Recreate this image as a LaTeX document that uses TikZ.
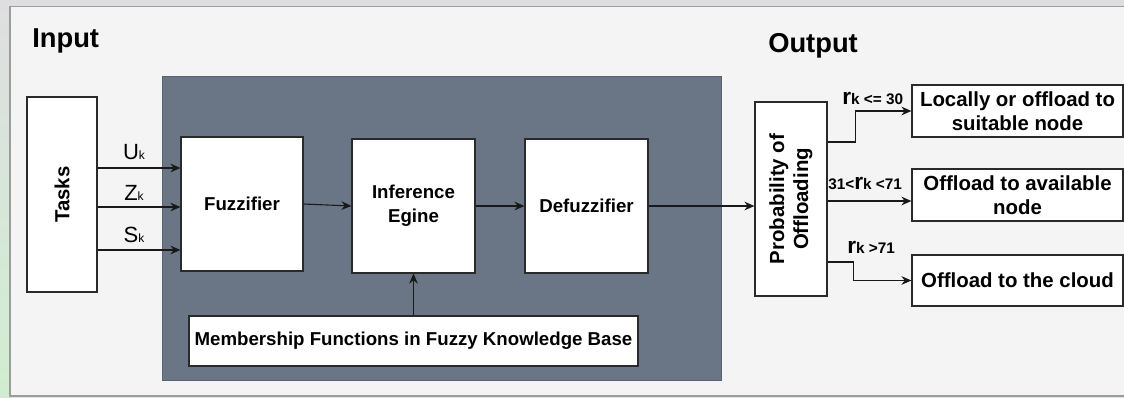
\documentclass[tikz,border=0pt]{standalone}
\usepackage{fontspec}
\setmainfont{Liberation Sans}
\usetikzlibrary{arrows.meta,calc}
\definecolor{panelc}{HTML}{6A7585}
\definecolor{paneld}{HTML}{586270}
\definecolor{framebg}{HTML}{F4F4F4}
\definecolor{framec}{HTML}{9C9C9C}
\definecolor{edgec}{HTML}{2A2A2A}
\newcommand\subk{{\fontsize{9}{9}\selectfont k}}
\newcommand\rbig{{\fontsize{17}{17}\selectfont r}}
\begin{document}
\begin{tikzpicture}[x=0.75pt,y=-0.75pt,
  sz/.style 2 args={minimum width=#1*0.75pt, minimum height=#2*0.75pt},
  box/.style={draw=edgec, fill=white, line width=0.9pt, inner sep=0pt, align=center},
  pfont/.style={font=\bfseries\fontsize{14}{18}\selectfont},
  ofont/.style={font=\bfseries\fontsize{15.3}{18}\selectfont},
  head/.style={font=\bfseries\fontsize{20.5}{24}\selectfont, inner sep=0pt, anchor=base west},
  inlab/.style={font=\fontsize{16.5}{18}\selectfont, inner sep=0pt},
  rlab/.style={font=\bfseries\fontsize{11.5}{12}\selectfont, inner sep=0pt, anchor=base west},
  arr/.style={draw=black!90, line width=0.8pt, -{Stealth[length=7.5pt,width=6.5pt]}}]
\useasboundingbox (0,0) rectangle (1124,397);
\begin{scope}
\clip (0,0) rectangle (1124,397);
\shade[top color=white!85!blue!20!gray!30, bottom color=gray!55!green!25] (0,0) rectangle (1124,397);
\draw[framec, fill=framebg, line width=0.8pt] (10,6.5) rectangle (1140,396);
% panel
\draw[paneld, fill=panelc, line width=0.6pt] (162,76) rectangle (721,380);
% boxes
\node[box, sz={70}{195}] (tasks) at (62,194.5) {};
\node[box, sz={122}{134}, pfont] (fuzz) at (242,204) {Fuzzifier};
\node[box, sz={123}{134}, pfont] (inf) at (413.5,206) {Inference\\Egine};
\node[box, sz={123}{134}, pfont] (defuzz) at (586.5,206) {Defuzzifier};
\node[box, sz={449}{50}, pfont] (memb) at (413.5,341) {Membership Functions in Fuzzy Knowledge Base};
\node[box, sz={72}{194}] (prob) at (791,199) {};
\node[box, sz={211}{52}, ofont] (out1) at (1017.5,111) {Locally or offload to\\suitable node};
\node[box, sz={211}{52}, ofont] (out2) at (1017.5,195) {Offload to available\\node};
\node[box, sz={211}{51}, ofont] (out3) at (1017.5,280.5) {Offload to the cloud};
\end{scope}
% rotated texts
\node[rotate=90, ofont, inner sep=0pt] (taskst) at (tasks.center) {Tasks};
\node[rotate=90, ofont, inner sep=0pt, align=center] (probt) at (prob.center) {Probability of\\Offloading};
% headings
\node[head] (inp) at (32,47) {Input};
\node[head] (outp) at (768,52) {Output};
% helper y levels
\coordinate (y1) at (0,168);
\coordinate (y2) at (0,207);
\coordinate (y3) at (0,250);
\coordinate (q1) at (0,142);
\coordinate (q2) at (0,201);
\coordinate (q3) at (0,262);
% input arrows
\draw[arr] (tasks.east |- y1) -- (fuzz.west |- y1);
\draw[arr] (tasks.east |- y2) -- (fuzz.west |- y2);
\draw[arr] (tasks.east |- y3) -- (fuzz.west |- y3);
\node[inlab] (lu) at (134,152) {U\subk};
\node[inlab] (lz) at (134,193) {Z\subk};
\node[inlab] (ls) at (134,235) {S\subk};
% pipeline arrows
\draw[arr] (fuzz.east) -- (inf.west);
\draw[arr] (inf.east) -- (defuzz.west);
\draw[arr] (defuzz.east) -- (prob.west |- defuzz.east);
\draw[arr] (memb.north) -- (inf.south);
% output arrows
\draw[arr] (prob.east |- q1) -- ++(28,0) |- (out1.west);
\draw[arr] (prob.east |- q2) -- (out2.west |- q2);
\draw[arr] (prob.east |- q3) -- ++(26,0) |- (out3.west);
\node[rlab] (r1) at (842,104) {\rbig k <= 30};
\node[rlab] (r2) at (828,189) {31<\rbig k <71};
\node[rlab] (r3) at (847,253) {\rbig k >71};
\end{tikzpicture}
\end{document}
